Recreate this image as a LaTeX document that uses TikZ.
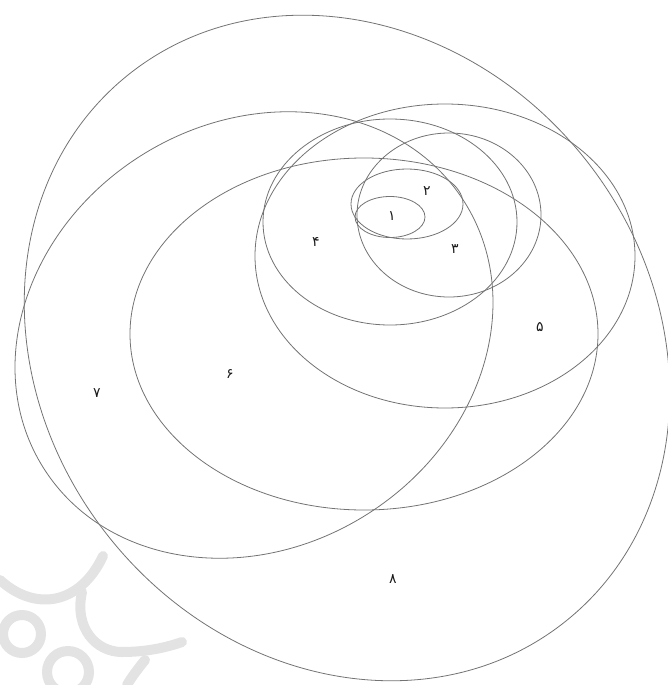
\documentclass[tikz,border=0pt]{standalone}
\usepackage{fontspec}
\newfontfamily\fadigits[Script=Arabic]{DejaVu Sans}
\usetikzlibrary{positioning}

\begin{document}
\begin{tikzpicture}[
  x=1pt, y=-1pt,
  set/.style={draw=black!55, line width=0.8pt},
  num/.style={font=\fadigits\fontsize{14}{16}\selectfont, text=black!90, inner sep=0pt},
  wm/.style={draw=black!11, line width=10pt, line cap=round}
]
\useasboundingbox (0,0) rectangle (667,685);

% faint ornament in the lower left
\draw[wm] (0,580) .. controls (35,612) and (80,605) .. (103,556);
\draw[wm] (82,592) .. controls (74,628) and (96,652) .. (122,652)
  .. controls (145,652) and (165,648) .. (182,642);
\draw[wm] (22,634) circle [radius=19];
\draw[wm] (68,672) circle [radius=21];
\draw[wm] (145,660) .. controls (137,670) and (131,678) .. (127,685);

% sets, inner to outer
\coordinate (c1) at (390,217);
\coordinate (c2) at (407,204);
\coordinate (c3) at (449,215);
\coordinate (c4) at (390,222);
\coordinate (c5) at (445,256);
\coordinate (c6) at (364,334);
\coordinate (c7) at (254,335);
\coordinate (c8) at (347,348);

\draw[set] (c1) ellipse [x radius=35, y radius=20.5];
\draw[set] (c2) ellipse [x radius=56, y radius=35];
\draw[set] (c3) ellipse [x radius=92, y radius=82];
\draw[set] (c4) ellipse [x radius=127, y radius=103];
\draw[set] (c5) ellipse [x radius=190, y radius=152];
\draw[set] (c6) ellipse [x radius=234, y radius=176];
\draw[set, rotate around={32.4:(c7)}] (c7) ellipse [x radius=249, y radius=212];
\draw[set, rotate around={-51.3:(c8)}] (c8) ellipse [x radius=350, y radius=304];

\node[num] (n1) at (392,216) {۱};
\node[num] (n2) at (427,191) {۲};
\node[num] (n3) at (455,249) {۳};
\node[num] (n4) at (316,242) {۴};
\node[num] (n5) at (540,327) {۵};
\node[num] (n6) at (230,374) {۶};
\node[num] (n7) at (97,393) {۷};
\node[num] (n8) at (393,579) {۸};
\end{tikzpicture}
\end{document}
